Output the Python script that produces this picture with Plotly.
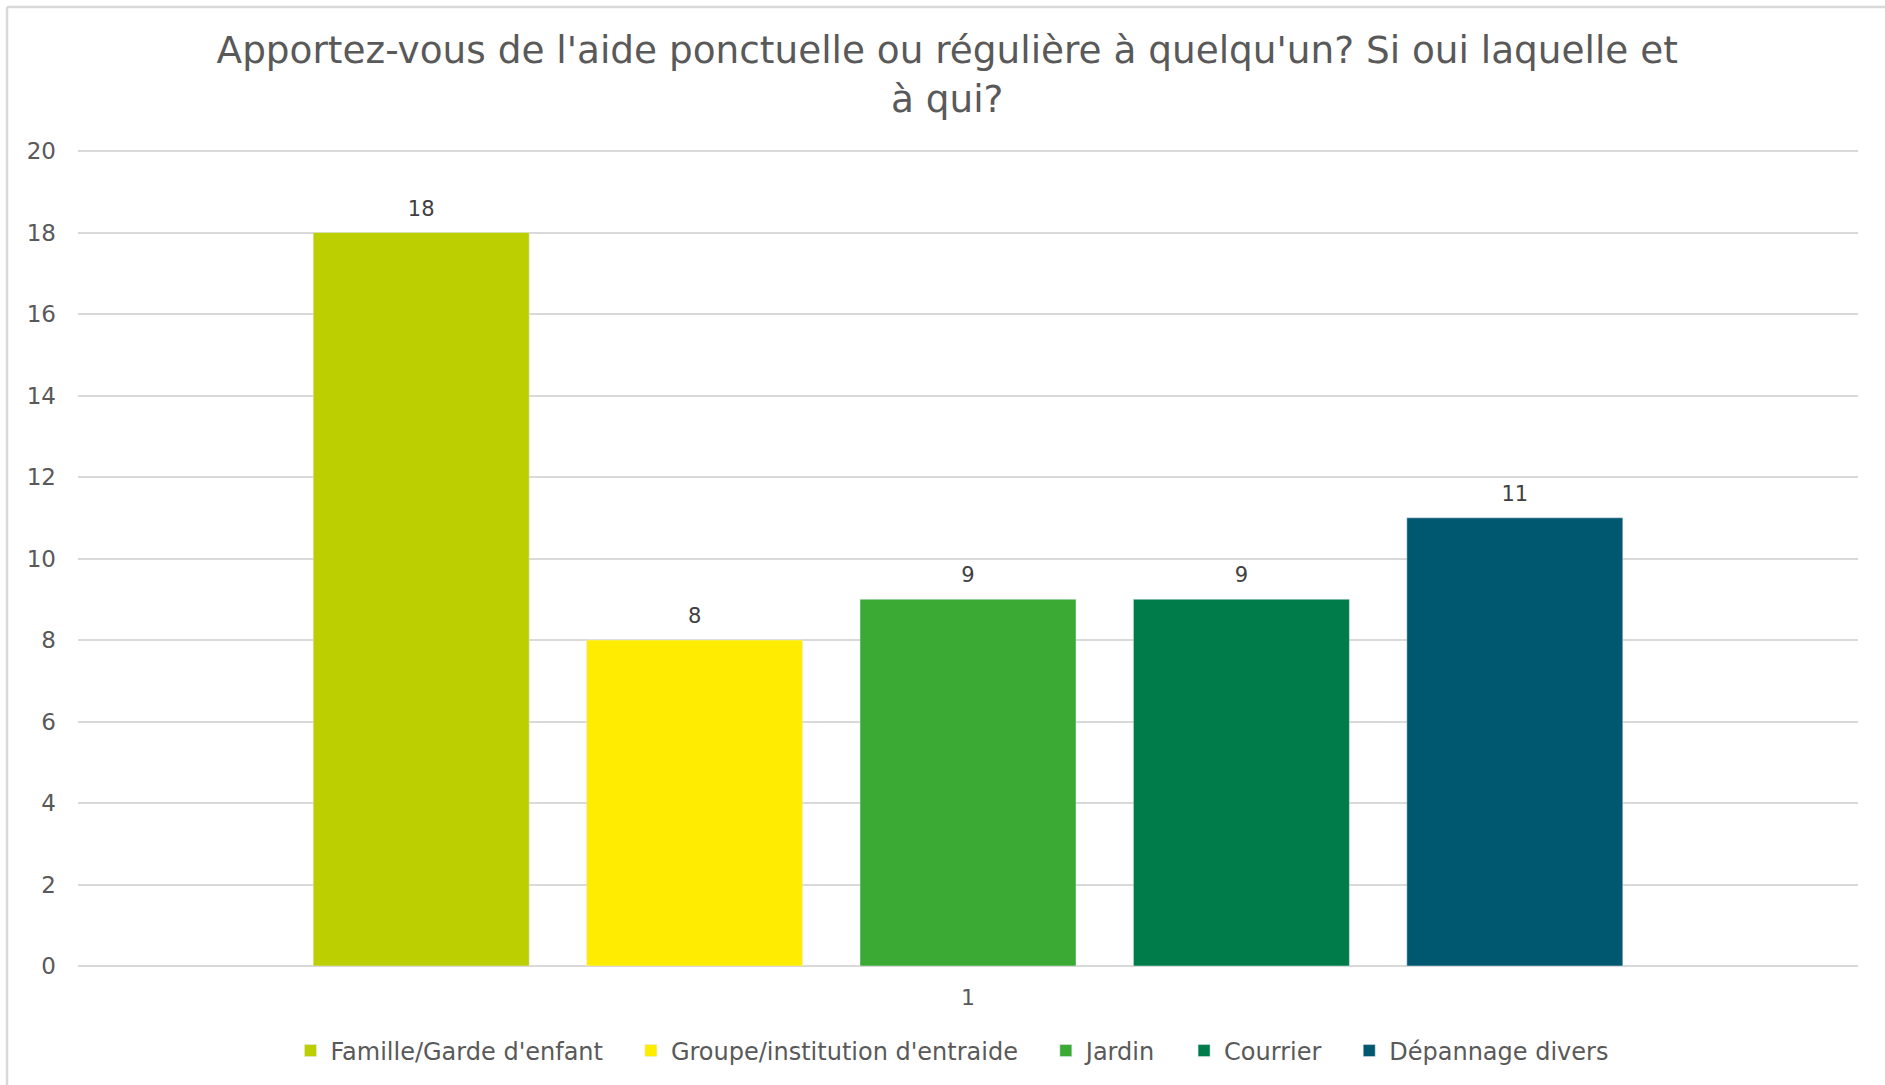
import plotly.graph_objects as go

category = ["1"]
series_names = ["Famille/Garde d'enfant", "Groupe/institution d'entraide", "Jardin", "Courrier", "Dépannage divers"]
series_values = [18, 8, 9, 9, 11]
series_colors = ["#BCCF00", "#FFEC00", "#3AAA35", "#007B4A", "#005770"]
y_ticks = [0, 2, 4, 6, 8, 10, 12, 14, 16, 18, 20]

FONT = "DejaVu Sans"
GREY = "#595959"
NB = "\u00a0"

fig = go.Figure()
n = len(series_names)
for i, (name, val, col) in enumerate(zip(series_names, series_values, series_colors)):
    label = name + (NB * 3 if i < n - 1 else "")
    fig.add_trace(go.Bar(
        x=category, y=[val], name=label, marker_color=col,
    ))
for i, val in enumerate(series_values):
    fig.add_trace(go.Scatter(
        x=category, y=[val], mode="markers+text", text=[str(val)],
        textposition="top center", showlegend=False, hoverinfo="skip",
        marker=dict(size=17, opacity=0, color="white"),
        textfont=dict(family=FONT, size=21, color="#404040"),
        cliponaxis=False,
    ))

fig.update_layout(
    width=1885, height=1085,
    paper_bgcolor="white", plot_bgcolor="white",
    margin=dict(l=78, r=27, t=149, b=119),
    barmode="group", bargap=0.232, bargroupgap=0.21,
    scattermode="group", scattergap=0.232,
    font=dict(family=FONT, color=GREY, size=21),
    title=dict(
        text="Apportez-vous de l'aide ponctuelle ou régulière à quelqu'un? Si oui laquelle et<br>à qui?",
        x=0.5025, xanchor="center", xref="container",
        y=0.9415, yanchor="top", yref="container",
        font=dict(family=FONT, size=37.4, color=GREY),
    ),
    legend=dict(
        orientation="h", x=0.491, xanchor="center", xref="paper",
        y=-0.104, yanchor="middle",
        font=dict(family=FONT, size=24, color=GREY),
        traceorder="normal",
    ),
    yaxis=dict(
        range=[0, 20.049], tickvals=y_ticks, showgrid=True, gridcolor="#D9D9D9", gridwidth=1.5,
        zeroline=True, zerolinecolor="#D9D9D9", zerolinewidth=1.5,
        showline=False, ticks="", ticklabelstandoff=21,
        tickfont=dict(family=FONT, size=23, color=GREY),
    ),
    xaxis=dict(
        showline=False, ticks="", ticklabelstandoff=16,
        tickfont=dict(family=FONT, size=22, color=GREY),
    ),
    showlegend=True,
)

PH = 817.0
TOP = 7.0
LEFT = 7.0
fig.add_shape(type="line", xref="paper", yref="paper",
              x0=(LEFT - 78) / 1780, x1=(1885 - 78) / 1780, y0=(966 - TOP) / PH, y1=(966 - TOP) / PH,
              line=dict(color="#D9D9D9", width=2.5))
fig.add_shape(type="line", xref="paper", yref="paper",
              x0=(LEFT - 78) / 1780, x1=(LEFT - 78) / 1780, y0=(966 - 1085) / PH, y1=(966 - TOP) / PH,
              line=dict(color="#D9D9D9", width=2.5))

fig.write_html("out.html", config={"displayModeBar": False},
               post_script="document.body.style.margin='0';")
